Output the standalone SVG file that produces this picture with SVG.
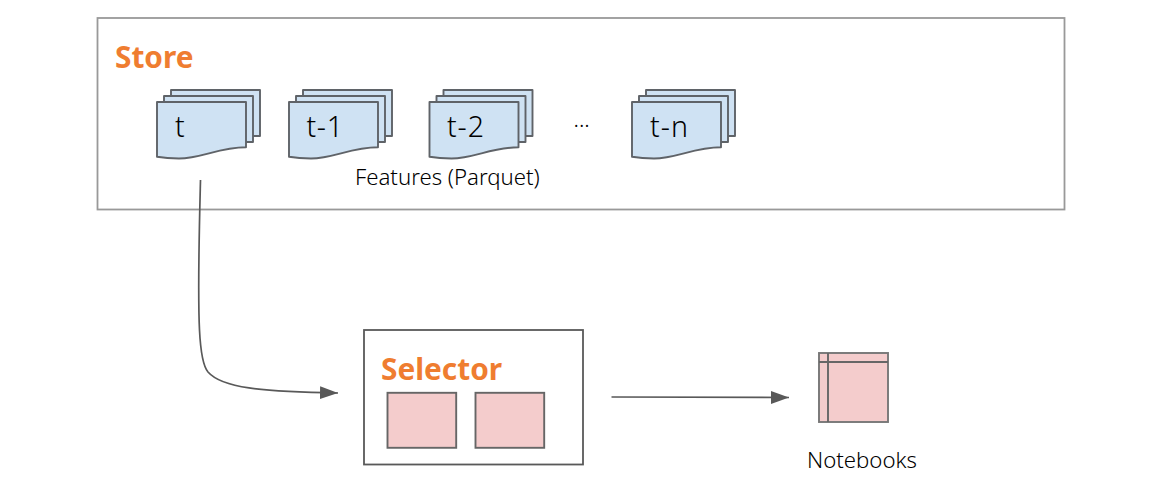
<svg xmlns="http://www.w3.org/2000/svg" width="1168" height="497" viewBox="0 0 1168 497">
<style>
text{font-family:"Noto Sans","Open Sans","Liberation Sans",sans-serif;fill:#000}
.h{font-weight:700;font-size:29.800px;fill:#ef7d30}
.d{font-size:28.500px;font-weight:300}
.l{font-size:22.200px;font-weight:300}
.doc{fill:#cfe2f3;stroke:#5f6368;stroke-width:1.900;stroke-linejoin:round}
.pink{fill:#f4cccc;stroke:#666;stroke-width:1.900}
.con{fill:none;stroke:#595959;stroke-width:1.700}
</style>
<defs>
<marker id="a" markerUnits="userSpaceOnUse" markerWidth="18" markerHeight="14" refX="18" refY="7" orient="auto"><path d="M0 0.500L18 7L0 13.500Z" fill="#595959"/></marker>
<path id="p" d="M0 0H89V45.300C62 45.300 44 56.500 22 56.500C12 56.500 6 55.800 0 54.700Z"/>
<g id="stack">
<rect class="doc" x="14" y="-12" width="89" height="46"/>
<rect class="doc" x="7" y="-6" width="89" height="46"/>
<use href="#p" class="doc"/>
</g>
</defs>
<g id="store"><rect x="97.500" y="18" width="967" height="191.500" fill="#fff" stroke="#999" stroke-width="1.800"/><text class="h" x="115" y="67.700">Store</text></g>
<g id="doc-t"><use href="#stack" x="157" y="102"/><text class="d" x="175" y="137">t</text></g>
<g id="doc-t1"><use href="#stack" x="289" y="102"/><text class="d" x="306.500" y="137" textLength="36.500" lengthAdjust="spacing">t-1</text></g>
<g id="doc-t2"><use href="#stack" x="429.500" y="102"/><text class="d" x="447" y="137" textLength="37" lengthAdjust="spacing">t-2</text></g>
<g id="doc-tn"><use href="#stack" x="632" y="102"/><text class="d" x="650" y="137" textLength="38" lengthAdjust="spacing">t-n</text></g>
<g id="ellipsis"><text class="l" x="573.500" y="127">...</text></g>
<g id="features"><text class="l" x="355" y="184.500">Features (Parquet)</text></g>
<g id="selector"><rect x="364" y="330" width="219" height="134.500" fill="#fff" stroke="#595959" stroke-width="1.800"/><text class="h" x="381" y="380.300">Selector</text>
<rect class="pink" x="387.500" y="392.800" width="68.700" height="55"/><rect class="pink" x="475.500" y="392.800" width="68.700" height="55"/></g>
<g id="notebooks"><rect class="pink" x="819" y="353" width="69" height="69" style="stroke:#777"/><path d="M819 362H888M828 353V422" fill="none" stroke="#666" stroke-width="1.900"/><text class="l" x="807" y="467.500">Notebooks</text></g>
<g id="connectors">
<path class="con" marker-end="url(#a)" d="M200.500 180C199.500 220 197.500 290 199.500 330C200.500 350 203 366 208 372C222 388 260 391.500 338 393"/>
<path class="con" marker-end="url(#a)" d="M611.500 397L789 397.500"/>
</g>
</svg>
